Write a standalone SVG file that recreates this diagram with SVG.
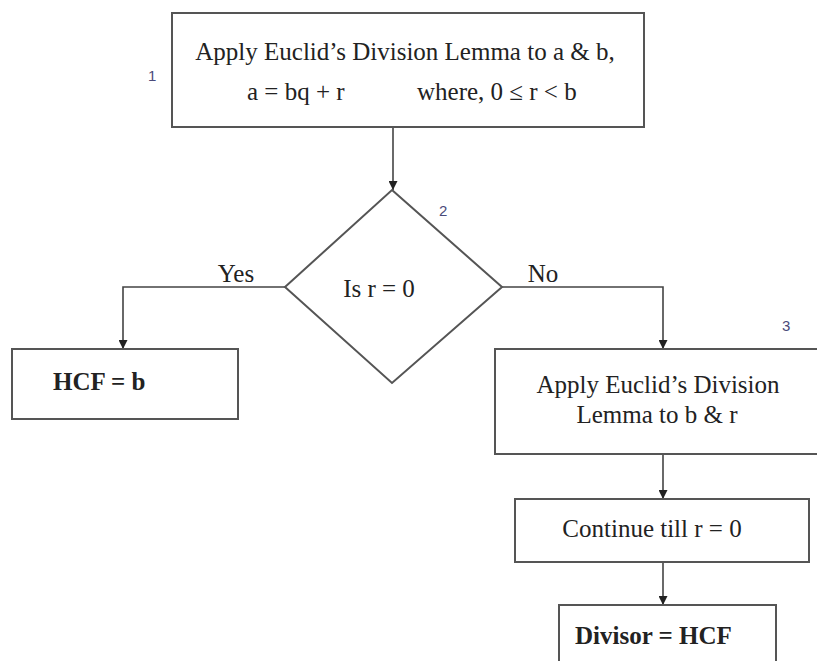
<svg xmlns="http://www.w3.org/2000/svg" width="817" height="661" viewBox="0 0 817 661">
<style>
.box{fill:#fff;stroke:#555;stroke-width:2}
.ln{fill:none;stroke:#444;stroke-width:1.6}
.t{font-family:"Liberation Serif","Times New Roman",serif;font-size:25px;fill:#222}
.b{font-weight:bold}
.n{font-family:"Liberation Sans",Arial,sans-serif;font-size:15px;fill:#4a4a7a}
</style>
<defs>
<marker id="ah" viewBox="0 0 10 10" refX="10" refY="5" markerWidth="9" markerHeight="9" markerUnits="userSpaceOnUse" orient="auto">
<path d="M0,0 L10,5 L0,10 Z" fill="#222"/>
</marker>
</defs>
<rect width="817" height="661" fill="#fff"/>
<g id="connectors">
<line class="ln" x1="393" y1="127" x2="393" y2="190" marker-end="url(#ah)"/>
<polyline class="ln" points="285,287 123,287 123,349" marker-end="url(#ah)"/>
<polyline class="ln" points="502,287 663,287 663,349" marker-end="url(#ah)"/>
<line class="ln" x1="663" y1="454" x2="663" y2="499" marker-end="url(#ah)"/>
<line class="ln" x1="663" y1="562" x2="663" y2="605" marker-end="url(#ah)"/>
<text class="t" x="236" y="282" text-anchor="middle">Yes</text>
<text class="t" x="543" y="282" text-anchor="middle">No</text>
</g>
<g id="node1">
<rect class="box" x="172" y="13" width="472" height="114"/>
<text class="t" x="405" y="60" text-anchor="middle">Apply Euclid’s Division Lemma to a &amp; b,</text>
<text class="t" x="247" y="100">a = bq + r</text>
<text class="t" x="417" y="100">where, 0 ≤ r &lt; b</text>
<text class="n" x="148" y="81">1</text>
</g>
<g id="node2">
<polygon class="box" points="392,190 502,287 392,383 285,287"/>
<text class="t" x="379" y="297" text-anchor="middle">Is r = 0</text>
<text class="n" x="439" y="216">2</text>
</g>
<g id="node-hcf">
<rect class="box" x="12" y="349" width="226" height="70"/>
<text class="t b" x="53" y="390">HCF = b</text>
</g>
<g id="node3">
<rect class="box" x="495" y="349" width="330" height="105"/>
<text class="t" x="658" y="393" text-anchor="middle">Apply Euclid’s Division</text>
<text class="t" x="657" y="423" text-anchor="middle">Lemma to b &amp; r</text>
<text class="n" x="782" y="331">3</text>
</g>
<g id="node-continue">
<rect class="box" x="515" y="499" width="294" height="63"/>
<text class="t" x="652" y="537" text-anchor="middle">Continue till r = 0</text>
</g>
<g id="node-divisor">
<rect class="box" x="559" y="605" width="217" height="70"/>
<text class="t b" x="575" y="644">Divisor = HCF</text>
</g>
</svg>
